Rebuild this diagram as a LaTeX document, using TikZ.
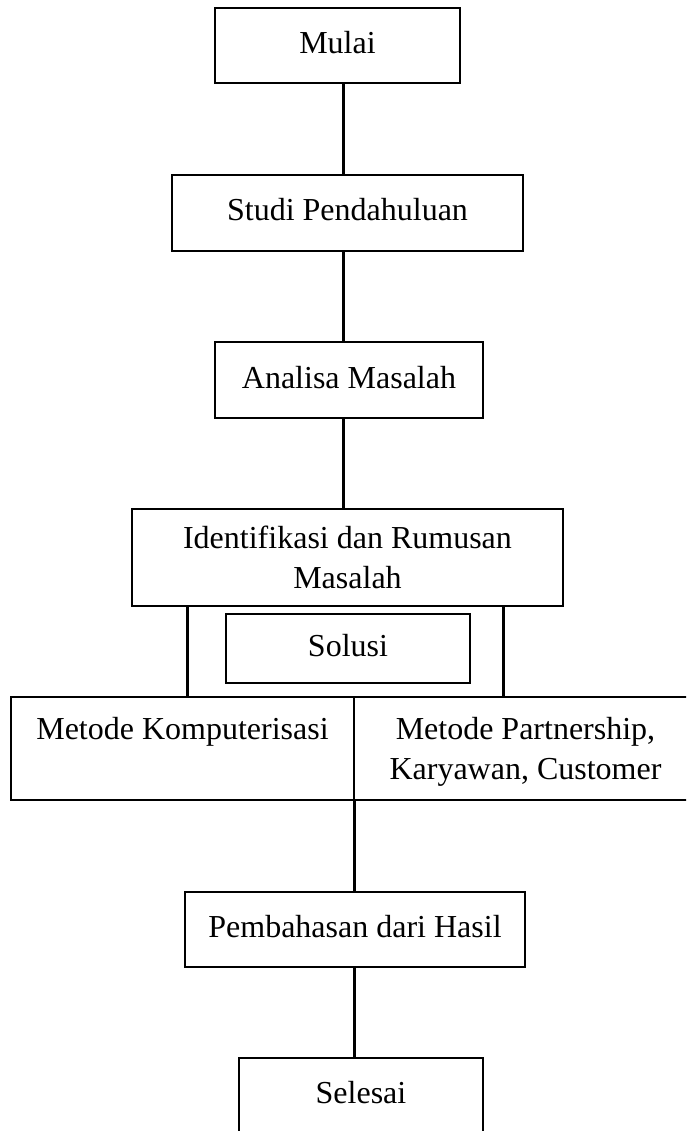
\documentclass[tikz,border=0pt]{standalone}
\usepackage{fontspec}
\setmainfont{Liberation Serif}
\begin{document}
\begin{tikzpicture}[x=1pt,y=-1pt,
  box/.style={draw=black,line width=1.5pt,inner sep=0pt,align=center,
    font=\fontsize{32}{40}\selectfont},
  onebox/.style={box,text height=24pt,text depth=8pt},
  conn/.style={draw=black,line width=3pt},
  thin/.style={draw=black,line width=1pt}]
\useasboundingbox (0,0) rectangle (686,1131);
\clip (0,0) rectangle (686,1131);
\fill[white] (0,0) rectangle (686,1131);
\coordinate (axisA) at (343,0);
\coordinate (axisB) at (354,0);
\coordinate (lineL) at (187,0);
\coordinate (lineR) at (503,0);

\node[onebox,minimum width=245pt,minimum height=75pt] (mulai) at (337.5,45.5) {Mulai};
\node[onebox,minimum width=351pt,minimum height=76pt] (studi) at (347.5,213) {Studi Pendahuluan};
\node[onebox,minimum width=268pt,minimum height=76pt] (analisa) at (349,380) {Analisa Masalah};
\node[box,minimum width=431pt,minimum height=97pt] (ident) at (347.5,557.5) {Identifikasi dan Rumusan\\Masalah};
\node[onebox,line width=2.2pt,minimum width=244pt,minimum height=69pt] (solusi) at (348,648.5) {Solusi};
\node[box,minimum width=343pt,minimum height=103pt] (metl) at (182.5,748.5) {Metode Komputerisasi\\\mbox{}};
\node[box,text depth=0pt,minimum width=343pt,minimum height=103pt] (metr) at (525.5,748.5) {Metode Partnership,\\Karyawan, Customer};
\node[onebox,minimum width=340pt,minimum height=75pt] (pemb) at (355,929.5) {Pembahasan dari Hasil};
\node[onebox,minimum width=244pt,minimum height=75pt] (selesai) at (361,1095.5) {Selesai};

\draw[thin] (metl.north east) -- (metl.south east);
\draw[conn] (mulai.south -| axisA) -- (studi.north -| axisA);
\draw[conn] (studi.south -| axisA) -- (analisa.north -| axisA);
\draw[conn] (analisa.south -| axisA) -- (ident.north -| axisA);
\draw[conn] (ident.south -| lineL) -- (metl.north -| lineL);
\draw[conn] (ident.south -| lineR) -- (metr.north -| lineR);
\draw[conn] (metl.south -| axisB) -- (pemb.north -| axisB);
\draw[conn] (pemb.south -| axisB) -- (selesai.north -| axisB);
\end{tikzpicture}
\end{document}
